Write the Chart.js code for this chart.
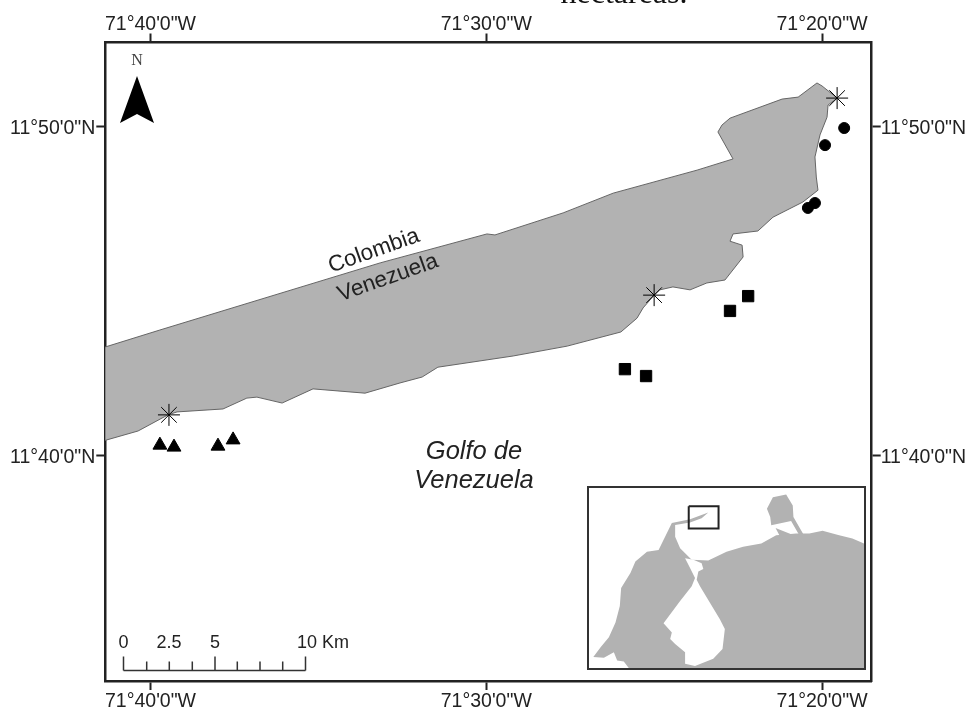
<!DOCTYPE html>
<html>
<head>
<meta charset="utf-8">
<style>
  html, body { margin: 0; padding: 0; background: #fff; overflow: hidden; }
  #wrap { position: relative; width: 969px; height: 708px; }
  #map { position: absolute; left: 0; top: 0; display: block; }
  #insetBox { position: absolute; left: 587px; top: 486px; width: 275px; height: 180px; background: #fff; border: 2px solid #333; }
  #inset { display: block; }
</style>
</head>
<body>
<div id="wrap">
  <canvas id="map" width="969" height="708"></canvas>
  <div id="insetBox"><canvas id="inset" width="275" height="180"></canvas></div>
</div>
<script src="https://cdn.jsdelivr.net/npm/chart.js@4"></script>
<script>
// coordinates are arc minutes: lon = minutes from 71 W (negative), lat = minutes north of 11 N
const lonTicks = [-40, -30, -20];
const lonLabels = ['71°40\'0"W', '71°30\'0"W', '71°20\'0"W'];
const latTicks = [50, 40];
const latLabels = ['11°50\'0"N', '11°40\'0"N'];

const coastLon = [-41.36, -39.72, -33.16, -29.98, -29.74, -27.71, -26.22, -23.72, -22.65, -23.10, -22.98, -22.74, -21.19, -20.71, -20.15, -20.00, -19.55, -19.82, -19.85, -20.06, -20.21, -20.17, -20.12, -20.57, -21.46, -21.91, -22.65, -22.74, -22.38, -22.35, -22.89, -23.43, -23.93, -24.44, -24.83, -25.00, -25.33, -25.51, -25.99, -27.59, -29.20, -31.44, -31.91, -32.57, -33.61, -35.16, -36.08, -36.83, -37.13, -37.84, -39.21, -39.48, -40.37, -41.30, -41.39];
const coastLat = [43.28, 43.80, 45.84, 46.72, 46.69, 47.36, 47.96, 48.66, 49.00, 49.82, 50.03, 50.24, 50.82, 50.88, 51.31, 51.22, 50.85, 50.64, 50.27, 49.73, 49.06, 48.45, 48.05, 47.69, 47.23, 46.81, 46.72, 46.50, 46.38, 46.02, 45.32, 45.23, 45.02, 45.11, 45.02, 44.86, 44.47, 44.16, 43.74, 43.31, 43.01, 42.67, 42.37, 42.19, 41.88, 42.01, 41.58, 41.76, 41.73, 41.40, 41.31, 41.22, 40.73, 40.46, 40.43];

const starLon = [-19.55, -25.00, -39.45];
const starLat = [50.85, 44.86, 41.22];
const circleLon = [-19.34, -19.91, -20.21, -20.42];
const circleLat = [49.94, 49.42, 47.66, 47.51];
const squareLon = [-25.87, -25.24, -22.74, -22.20];
const squareLat = [42.61, 42.40, 44.38, 44.83];
const triangleLon = [-39.72, -39.30, -37.99, -37.54];
const triangleLat = [40.30, 40.24, 40.27, 40.46];

// inset map, in its own plain units
const regionX = [145, 130, 110, 100, 70, 38, 60, 85, 105, 118, 122, 150, 165, 200, 235, 275, 330, 385, 365, 330, 285, 285, 300, 335, 385, 440, 490, 545, 590, 650, 690, 730, 780, 820, 855, 855];
const regionY = [568, 548, 545, 520, 537, 535, 505, 475, 430, 380, 325, 280, 245, 215, 210, 128, 117, 96, 114, 127, 134, 170, 205, 240, 242, 215, 200, 190, 165, 160, 160, 152, 165, 175, 190, 568];
const lakeX = [315, 340, 365, 370, 355, 350, 360, 390, 420, 435, 428, 400, 345, 315, 315, 285, 270, 275, 250, 300, 335, 345, 330, 320];
const lakeY = [235, 240, 250, 268, 275, 300, 320, 370, 420, 450, 510, 540, 562, 555, 520, 495, 480, 460, 432, 365, 320, 295, 265, 245];
const peninsulaX = [562, 580, 620, 640, 642, 665, 672, 658, 635, 575, 572];
const peninsulaY = [85, 50, 42, 75, 110, 150, 162, 162, 122, 135, 110];
const spitX = [588, 605, 645, 600];
const spitY = [143, 150, 166, 166];
const boxX = [326, 416, 416, 326, 326];
const boxY = [77, 77, 145, 145, 77];

function zip(xs, ys) {
  return xs.map((x, i) => ({ x: x, y: ys[i] }));
}

function markers(xs, ys, style, radius, order) {
  return {
    data: zip(xs, ys),
    showLine: false,
    pointStyle: style,
    pointRadius: radius,
    backgroundColor: '#000',
    borderColor: '#000',
    pointBorderWidth: 1,
    order: order
  };
}

const axisFont = { family: '"Liberation Sans"', size: 19.5 };
const ink = '#222';

function frameAxis(position, ticks, labels, thickness, padding, nudge) {
  const horizontal = position === 'top' || position === 'bottom';
  return {
    type: 'linear',
    position: position,
    min: horizontal ? -41.346 : 33.13,
    max: horizontal ? -18.52 : 52.54,
    afterBuildTicks: function (scale) {
      scale.ticks = ticks.map(v => ({ value: v }));
    },
    afterFit: function (scale) {
      if (horizontal) scale.height = thickness; else scale.width = thickness;
    },
    border: { display: true, color: ink, width: 2.5 },
    grid: { drawOnChartArea: false, drawTicks: true, tickLength: 9, tickColor: ink, tickWidth: 2 },
    ticks: {
      autoSkip: false,
      maxRotation: 0,
      padding: padding,
      labelOffset: nudge,
      color: ink,
      font: axisFont,
      callback: function (value) {
        return labels[ticks.indexOf(value)];
      }
    }
  };
}

const mapNotes = {
  id: 'mapNotes',
  afterDraw: function (chart) {
    const c = chart.ctx;
    c.save();
    c.fillStyle = ink;
    c.textAlign = 'center';
    c.textBaseline = 'middle';

    // rotated border names
    c.font = '22.5px "Liberation Sans"';
    [['Colombia', 374, 251], ['Venezuela', 388, 278]].forEach(function (t) {
      c.save();
      c.translate(t[1], t[2]);
      c.rotate(-19.5 * Math.PI / 180);
      c.fillText(t[0], 0, 0);
      c.restore();
    });

    c.font = 'italic 25.5px "Liberation Sans"';
    c.fillText('Golfo de', 474, 452);
    c.fillText('Venezuela', 474, 481);

    // cut off caption above the map
    c.font = '32px "Liberation Serif"';
    c.fillStyle = '#111';
    c.textBaseline = 'alphabetic';
    c.fillText('hectareas.', 624, 3);

    // north arrow
    c.fillStyle = '#444';
    c.font = '16px "Liberation Serif"';
    c.textBaseline = 'middle';
    c.fillText('N', 137, 61);
    c.fillStyle = '#000';
    c.beginPath();
    c.moveTo(137, 76);
    c.lineTo(120, 123);
    c.lineTo(137, 114);
    c.lineTo(154, 123);
    c.closePath();
    c.fill();

    // scale bar
    c.strokeStyle = '#333';
    c.lineWidth = 1.5;
    c.beginPath();
    c.moveTo(123.5, 670.5);
    c.lineTo(305.5, 670.5);
    [123.5, 215, 305.5].forEach(function (x) {
      c.moveTo(x, 656.5);
      c.lineTo(x, 670.5);
    });
    [146.7, 169.3, 192.3, 237.3, 260, 282.7].forEach(function (x) {
      c.moveTo(x, 661.5);
      c.lineTo(x, 670.5);
    });
    c.stroke();
    c.fillStyle = ink;
    c.font = '18px "Liberation Sans"';
    c.fillText('0', 123.5, 643);
    c.fillText('2.5', 169, 643);
    c.fillText('5', 215, 643);
    c.textAlign = 'left';
    c.fillText('10 Km', 297, 643);
    c.restore();
  }
};

new Chart(document.getElementById('map'), {
  type: 'scatter',
  data: {
    datasets: [
      markers(starLon, starLat, 'star', 11, 1),
      markers(circleLon, circleLat, 'circle', 5.5, 1),
      markers(squareLon, squareLat, 'rect', 8, 1),
      markers(triangleLon, triangleLat, 'triangle', 8, 1),
      {
        data: zip(coastLon, coastLat),
        showLine: true,
        fill: 'shape',
        tension: 0,
        pointRadius: 0,
        borderWidth: 1,
        borderColor: '#666',
        backgroundColor: '#b2b2b2',
        order: 5
      }
    ]
  },
  options: {
    responsive: false,
    animation: false,
    events: [],
    layout: { padding: 0 },
    plugins: { legend: { display: false }, tooltip: { enabled: false } },
    scales: {
      x: frameAxis('bottom', lonTicks, lonLabels, 27, 0, 0),
      xTop: frameAxis('top', lonTicks, lonLabels, 42.5, -3, 0),
      y: frameAxis('left', latTicks, latLabels, 105.3, 1, 2.5),
      yRight: frameAxis('right', latTicks, latLabels, 97.3, 0, 2.5)
    }
  },
  plugins: [mapNotes]
});

function patch(xs, ys, color, order) {
  return {
    data: zip(xs, ys),
    showLine: true,
    fill: 'shape',
    tension: 0,
    pointRadius: 0,
    borderWidth: 0,
    backgroundColor: color,
    order: order
  };
}

new Chart(document.getElementById('inset'), {
  type: 'scatter',
  data: {
    datasets: [
      {
        data: zip(boxX, boxY),
        showLine: true,
        tension: 0,
        pointRadius: 0,
        borderWidth: 2,
        borderColor: '#222',
        order: 1
      },
      patch(lakeX, lakeY, '#fff', 2),
      patch(spitX, spitY, '#b2b2b2', 3),
      patch(peninsulaX, peninsulaY, '#b2b2b2', 3),
      patch(regionX, regionY, '#b2b2b2', 4)
    ]
  },
  options: {
    responsive: false,
    animation: false,
    events: [],
    layout: { padding: 0 },
    plugins: { legend: { display: false }, tooltip: { enabled: false } },
    scales: {
      x: { display: false, min: 25, max: 855 },
      y: { display: false, min: 22, max: 568, reverse: true }
    }
  }
});
</script>
</body>
</html>
